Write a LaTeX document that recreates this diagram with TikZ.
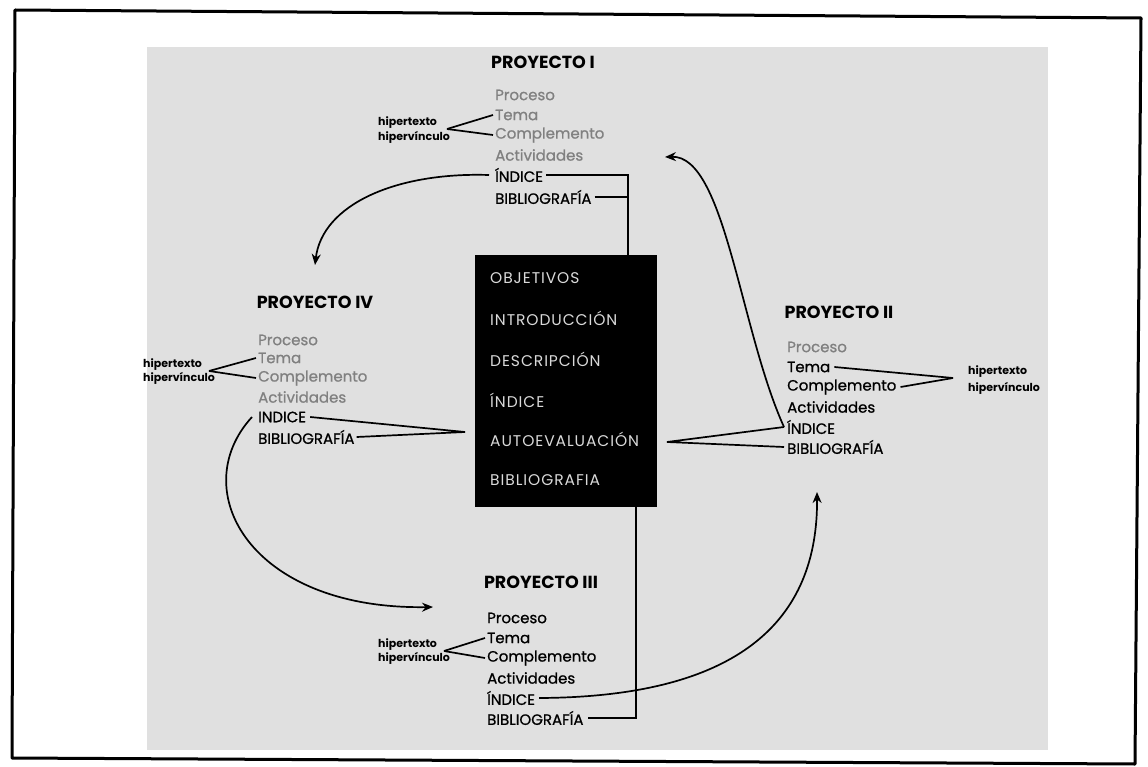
\documentclass[tikz,border=0pt]{standalone}
\usepackage{fontspec}
\setmainfont{Poppins}
\newfontfamily\itemfont{Poppins}[FakeBold=0.8]
\newfontfamily\boxfont{Poppins}[LetterSpace=6]
\usetikzlibrary{arrows.meta}
\begin{document}
\begin{tikzpicture}[x=1pt,y=-1pt,
  item/.style={anchor=west, inner sep=0pt, font=\itemfont\fontsize{15}{16}\selectfont, text=black},
  itemlt/.style={item, text=black!50},
  ptitle/.style={inner sep=0pt, font=\fontsize{17.5}{18}\selectfont\bfseries},
  hip/.style={anchor=west, inner sep=0pt, font=\fontsize{11}{12}\selectfont\bfseries},
  boxitem/.style={anchor=west, inner sep=0pt, text=black!15, font=\boxfont\fontsize{15.5}{16}\selectfont},
  conn/.style={line width=1.7pt},
  arr/.style={conn, -{Stealth[length=11pt,width=9pt]}}]
\useasboundingbox (0,0) rectangle (1148,767);
\fill[white] (0,0) rectangle (1148,767);
\fill[black!12] (147,47) rectangle (1048,750);
\draw[line width=3pt, line join=round] (15,10) -- (1141,18) -- (1135,764) -- (12,758) -- cycle;

% central box
\node[fill=black, minimum width=182pt, minimum height=252pt, inner sep=0pt, anchor=north west] (box) at (475,255) {};
\node[boxitem] (b1) at (490,278) {OBJETIVOS};
\node[boxitem] (b2) at (490,318) {INTRODUCCIÓN};
\node[boxitem] (b3) at (490,359) {DESCRIPCIÓN};
\node[boxitem] (b4) at (490,400) {ÍNDICE};
\node[boxitem] (b5) at (490,439) {AUTOEVALUACIÓN};
\node[boxitem] (b6) at (490,480) {BIBLIOGRAFIA};

% Proyecto I
\node[ptitle] (t1) at (543,62) {PROYECTO I};
\node[itemlt] (p1a) at (495,95) {Proceso};
\node[itemlt] (p1b) at (495,115) {Tema};
\node[itemlt] (p1c) at (495,135) {Complemento};
\node[itemlt] (p1d) at (495,155) {Actividades};
\node[item] (p1e) at (495,175) {ÍNDICE};
\node[item] (p1f) at (495,197) {BIBLIOGRAFÍA};
\node[hip] (h1a) at (378,123) {hipertexto};
\node[hip] (h1b) at (378,137) {hipervínculo};
\coordinate (h1) at (447,129);
\draw[conn] (h1) -- ([xshift=-2pt]p1b.west);
\draw[conn] (h1) -- ([xshift=-2pt]p1c.west);
\coordinate (c1) at (628,175);
\draw[conn] ([xshift=3pt]p1e.east) -- (c1) -- (c1 |- box.north);
\draw[conn] ([xshift=3pt]p1f.east) -- (p1f.east -| c1);
\draw[arr] ([xshift=-6pt]p1e.west) .. controls (395,172) and (322,205) .. (315,265);

% Proyecto II
\node[ptitle] (t2) at (839,312) {PROYECTO II};
\node[itemlt] (p2a) at (787,347) {Proceso};
\node[item] (p2b) at (787,367) {Tema};
\node[item] (p2c) at (787,387) {Complemento};
\node[item] (p2d) at (787,407) {Actividades};
\node[item] (p2e) at (787,427) {ÍNDICE};
\node[item] (p2f) at (787,447) {BIBLIOGRAFÍA};
\node[hip] (h2a) at (968,372) {hipertexto};
\node[hip] (h2b) at (968,388) {hipervínculo};
\coordinate (h2) at (953,378);
\draw[conn] ([xshift=4pt]p2b.east) -- (h2);
\draw[conn] ([xshift=4pt]p2c.east) -- (h2);
\coordinate (a2) at (667,442);
\draw[conn] ([xshift=-3pt]p2e.west) -- (a2) -- ([xshift=-3pt]p2f.west);
\draw[arr] ([xshift=-3pt]p2e.west) .. controls (740,330) and (725,155) .. (665,157);

% Proyecto IV
\node[ptitle] (t4) at (315,302) {PROYECTO IV};
\node[itemlt] (p4a) at (258,340) {Proceso};
\node[itemlt] (p4b) at (258,358) {Tema};
\node[itemlt] (p4c) at (258,378) {Complemento};
\node[itemlt] (p4d) at (258,397) {Actividades};
\node[item] (p4e) at (258,417) {INDICE};
\node[item] (p4f) at (258,437) {BIBLIOGRAFÍA};
\node[hip] (h4a) at (143,365) {hipertexto};
\node[hip] (h4b) at (143,378) {hipervínculo};
\coordinate (h4) at (209,371);
\draw[conn] (h4) -- ([xshift=-2pt]p4b.west);
\draw[conn] (h4) -- ([xshift=-2pt]p4c.west);
\coordinate (a4) at (465,432);
\draw[conn] ([xshift=4pt]p4e.east) -- (a4) -- ([xshift=2pt]p4f.east);
\draw[arr] ([xshift=-6pt]p4e.west) .. controls (185,490) and (250,610) .. (433,607);

% Proyecto III
\node[ptitle] (t3) at (541,582) {PROYECTO III};
\node[item] (p3a) at (487,618) {Proceso};
\node[item] (p3b) at (487,638) {Tema};
\node[item] (p3c) at (487,658) {Complemento};
\node[item] (p3d) at (487,678) {Actividades};
\node[item] (p3e) at (487,698) {ÍNDICE};
\node[item] (p3f) at (487,718) {BIBLIOGRAFÍA};
\node[hip] (h3a) at (378,645) {hipertexto};
\node[hip] (h3b) at (378,658) {hipervínculo};
\coordinate (h3) at (444,651);
\draw[conn] (h3) -- ([xshift=-2pt]p3b.west);
\draw[conn] (h3) -- ([xshift=-2pt]p3c.west);
\coordinate (c3) at (636,720);
\draw[conn] (c3 |- box.south) -- (c3 |- p3f.east) -- ([xshift=4pt]p3f.east);
\draw[arr] ([xshift=4pt]p3e.east) .. controls (740,697) and (818,620) .. (817,492);
\end{tikzpicture}
\end{document}
